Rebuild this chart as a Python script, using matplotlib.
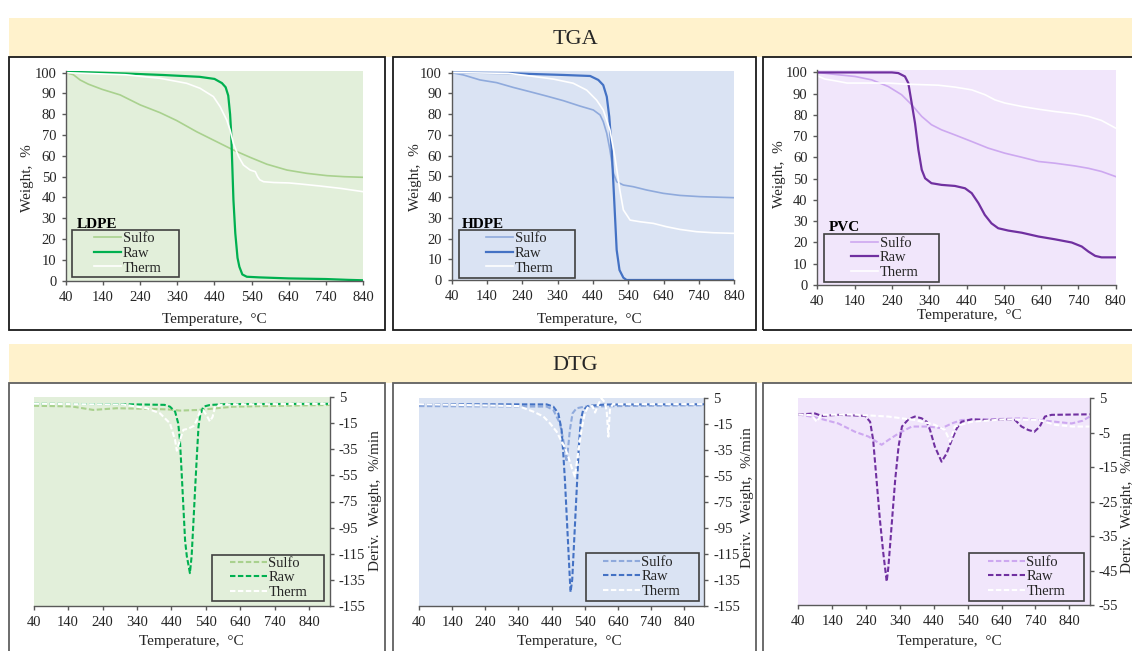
import matplotlib
matplotlib.use("Agg")
import matplotlib.pyplot as plt
from matplotlib.patches import Rectangle

plt.rcParams['font.family'] = ['Liberation Serif', 'DejaVu Serif']
plt.rcParams['axes.unicode_minus'] = False

# ---------------- DATA ----------------
series_names = ["Sulfo", "Raw", "Therm"]
materials = ["LDPE", "HDPE", "PVC"]
x_ticks = [40, 140, 240, 340, 440, 540, 640, 740, 840]
tga_y_ticks = [0, 10, 20, 30, 40, 50, 60, 70, 80, 90, 100]
dtg_y_ticks_pe = [5, -15, -35, -55, -75, -95, -115, -135, -155]
dtg_y_ticks_pvc = [5, -5, -15, -25, -35, -45, -55]

# TGA LDPE
ldpe_sulfo_T = [40, 60, 78, 100, 137, 186, 240, 293, 338, 392, 437, 491, 536, 581, 635, 689, 743, 790, 840]
ldpe_sulfo_W = [100, 99, 96.5, 94.5, 92, 89.3, 84.5, 80.8, 77, 71.6, 67.6, 62.8, 59.3, 56, 53.2, 51.6, 50.5, 50, 49.7]
ldpe_raw_T = [40, 200, 300, 400, 440, 460, 470, 477, 482, 485, 491, 496, 502, 507, 515, 527, 560, 640, 740, 800, 840]
ldpe_raw_W = [100.5, 99.6, 98.9, 98, 97, 95, 93, 89, 80, 70.8, 38.8, 22.8, 11, 6.7, 3, 1.9, 1.6, 1.1, 0.8, 0.4, 0.2]
ldpe_therm_T = [40, 200, 293, 365, 401, 437, 455, 473, 482, 491, 505, 518, 536, 550, 556, 562, 572, 600, 640, 671, 725, 779, 840]
ldpe_therm_W = [100, 99, 97.3, 94.9, 92.5, 88.5, 83.7, 77.2, 72.4, 66, 59.6, 55.6, 53.2, 52.4, 50, 48.5, 47.6, 47.2, 47, 46.5, 45.5, 44.4, 42.8]

# TGA HDPE
hdpe_sulfo_T = [40, 73, 120, 167, 214, 262, 309, 356, 403, 441, 460, 469, 479, 488, 498, 507, 526, 554, 592, 639, 686, 743, 840]
hdpe_sulfo_W = [100, 98.9, 96.5, 95.2, 92.9, 90.8, 88.7, 86.5, 83.9, 82, 79.6, 76.4, 70.7, 62.7, 51.4, 47.4, 45.8, 45, 43.4, 41.8, 40.8, 40.2, 39.7]
hdpe_raw_T = [40, 200, 262, 356, 432, 455, 469, 479, 486, 493, 500, 507, 515, 526, 535, 840]
hdpe_raw_W = [100, 99.8, 99.4, 98.9, 98.4, 96.5, 94, 88.4, 78.8, 62.7, 38.6, 14.5, 4.8, 1.1, 0, 0]
hdpe_therm_T = [40, 200, 262, 328, 384, 422, 450, 469, 488, 502, 516, 526, 545, 573, 611, 648, 686, 733, 780, 840]
hdpe_therm_W = [100, 99.7, 98.4, 96.9, 94.9, 91.6, 86.8, 82, 72.3, 59.5, 43.4, 33.8, 28.9, 28.1, 27.3, 25.7, 24.4, 23.3, 22.8, 22.5]

# TGA PVC
pvc_sulfo_T = [40, 96, 141, 186, 230, 266, 293, 320, 346, 373, 409, 454, 498, 543, 588, 633, 677, 731, 767, 802, 840]
pvc_sulfo_W = [100, 98.9, 98.1, 96.5, 93.4, 89.5, 84.8, 79.3, 75.4, 73, 70.6, 67.5, 64.4, 62, 60.1, 58.1, 57.3, 56, 54.9, 53.4, 51]
pvc_raw_T = [40, 240, 257, 275, 284, 293, 302, 311, 320, 329, 346, 373, 409, 436, 454, 472, 489, 507, 525, 552, 588, 633, 677, 722, 749, 767, 785, 802, 840]
pvc_raw_W = [100, 100, 99.7, 98.1, 95, 85.6, 76.1, 63.6, 54.2, 50.2, 47.9, 47.1, 46.6, 45.5, 43.2, 38.5, 33, 29, 26.7, 25.6, 24.6, 22.8, 21.5, 20, 18.1, 15.7, 13.7, 13, 13]
pvc_therm_T = [40, 60, 96, 120, 230, 275, 364, 409, 454, 490, 516, 543, 588, 633, 677, 731, 767, 802, 840]
pvc_therm_W = [98.4, 96.9, 95.8, 95, 95, 94.5, 94, 93.1, 91.8, 89.5, 87.1, 85.6, 84, 82.7, 81.6, 80.5, 79.3, 77.4, 73.8]

# DTG LDPE
dtg_ldpe_sulfo_T = [40, 150, 213, 281, 360, 430, 465, 520, 572, 620, 720, 900]
dtg_ldpe_sulfo_V = [-1.5, -2, -4.7, -3.4, -3.8, -4.3, -5.2, -4.7, -3.4, -2.2, -1.7, -0.9]
dtg_ldpe_raw_T = [40, 300, 420, 436, 451, 460, 465, 470, 475, 480, 485, 490, 494, 499, 504, 509, 514, 519, 524, 533, 552, 600, 900]
dtg_ldpe_raw_V = [0, -0.3, -0.8, -2.2, -6, -15, -28, -53, -79, -105, -117, -124, -130, -117, -92, -66, -41, -17.5, -8.6, -2.2, -0.9, -0.2, 0]
dtg_ldpe_therm_T = [40, 300, 368, 407, 436, 451, 456, 465, 475, 490, 505, 515, 523, 533, 543, 552, 560, 567, 590, 900]
dtg_ldpe_therm_V = [0, -0.5, -3.4, -7.3, -15, -28, -36, -28, -20, -19, -17, -12, -6, -5, -9, -13.5, -10, -2.2, -0.5, 0]

# DTG HDPE
dtg_hdpe_sulfo_T = [40, 200, 425, 445, 465, 475, 485, 490, 495, 503, 515, 540, 700, 900]
dtg_hdpe_sulfo_V = [-1, -1.2, -1.4, -4, -14.3, -27, -44, -32.3, -19.4, -6.6, -2.7, -1.4, -0.8, -0.4]
dtg_hdpe_raw_T = [40, 425, 445, 460, 470, 475, 480, 485, 490, 495, 497, 502, 507, 512, 517, 522, 528, 535, 550, 600, 900]
dtg_hdpe_raw_V = [0.4, 0.3, -1.4, -6.6, -19.4, -37.4, -58, -83.7, -109.5, -135, -144.5, -135, -109.5, -83.7, -58, -32, -11.7, -4, -0.9, 0.2, 0.4]
dtg_hdpe_therm_T = [40, 340, 385, 415, 435, 455, 470, 480, 490, 500, 510, 520, 530, 540, 550, 563, 571, 580, 590, 600, 606, 611, 616, 625, 900]
dtg_hdpe_therm_V = [0.5, -1, -5.3, -9, -14.3, -20.7, -28.4, -33, -40, -48, -55.4, -37, -19.4, -6.6, -1.4, -1, -6, 0, 5, 2, -5, -24.6, -3, 0.5, 0.5]

# DTG PVC
dtg_pvc_sulfo_T = [40, 89, 158, 207, 247, 286, 306, 336, 375, 424, 463, 493, 522, 600, 700, 750, 798, 847, 880, 900]
dtg_pvc_sulfo_V = [0.3, -0.5, -2.3, -4.7, -6.1, -8.5, -7.1, -5.2, -3.2, -3.2, -3.7, -2.3, -1.3, -1.1, -0.8, -1.3, -1.8, -2.3, -1.5, -0.3]
dtg_pvc_raw_T = [40, 89, 109, 158, 237, 252, 261, 271, 281, 291, 301, 306, 316, 326, 336, 346, 365, 384, 404, 419, 429, 443, 463, 478, 493, 508, 522, 552, 601, 660, 680, 699, 719, 737, 753, 768, 788, 900]
dtg_pvc_raw_V = [0.3, 0.6, -0.1, 0.2, -0.1, -1.8, -7.1, -18.7, -30.3, -40, -48.2, -43.9, -31.3, -18.7, -9, -3.2, -1.1, -0.3, -0.8, -1.8, -4.2, -9, -13.4, -11, -7.1, -3.7, -1.8, -1.1, -1.3, -1.1, -1.3, -3.2, -4.2, -4.7, -3.2, -0.3, 0.2, 0.35]
dtg_pvc_therm_T = [40, 80, 94, 108, 200, 306, 384, 443, 473, 488, 502, 552, 650, 750, 798, 850, 900]
dtg_pvc_therm_V = [0.3, 0.1, -1.8, 0.2, 0.3, -0.3, -1.3, -2.7, -4.2, -7.6, -3.2, -1.8, -1.1, -1.3, -2.7, -3.2, -3.2]

# ---------------- STYLE ----------------
W, H = 1132, 651
bg_colors = ['#E2EFDA', '#DAE3F3', '#F1E6FB']
sulfo_colors = ['#A9D18E', '#8FAADC', '#CDA8F0']
raw_colors = ['#00B050', '#4472C4', '#7030A0']
therm_color = '#FFFFFF'
spine_c = '#595959'
text_c = '#262626'

fig = plt.figure(figsize=(W / 100, H / 100), dpi=100)


def fx(px):
    return px / W


def fy(py):
    return 1 - py / H


def add_ax(l, t, r, b):
    return fig.add_axes([l / W, 1 - b / H, (r - l) / W, (b - t) / H])


def rect(l, t, r, b, **kw):
    fig.add_artist(Rectangle((fx(l), fy(b)), (r - l) / W, (b - t) / H,
                             transform=fig.transFigure, **kw))


# headers
for (t, b, label) in [(18, 57, 'TGA'), (344, 383, 'DTG')]:
    rect(9, t, 1140, b, facecolor='#FFF2CC', edgecolor='none', zorder=-2)
    fig.text(fx(575), fy((t + b) / 2 + 1.5), label, ha='center', va='center',
             fontsize=16, color=text_c)

# panel borders
panel_x = [(9, 385), (393, 756), (763, 1145)]
for (l, r) in panel_x:
    rect(l, 57, r, 330, facecolor='none', edgecolor='#1a1a1a', lw=1.3, zorder=-1)
    rect(l, 383, r, 670, facecolor='none', edgecolor='#606060', lw=1.3, zorder=-1)

tga_data = [
    [(ldpe_sulfo_T, ldpe_sulfo_W), (ldpe_raw_T, ldpe_raw_W), (ldpe_therm_T, ldpe_therm_W)],
    [(hdpe_sulfo_T, hdpe_sulfo_W), (hdpe_raw_T, hdpe_raw_W), (hdpe_therm_T, hdpe_therm_W)],
    [(pvc_sulfo_T, pvc_sulfo_W), (pvc_raw_T, pvc_raw_W), (pvc_therm_T, pvc_therm_W)],
]
dtg_data = [
    [(dtg_ldpe_sulfo_T, dtg_ldpe_sulfo_V), (dtg_ldpe_raw_T, dtg_ldpe_raw_V), (dtg_ldpe_therm_T, dtg_ldpe_therm_V)],
    [(dtg_hdpe_sulfo_T, dtg_hdpe_sulfo_V), (dtg_hdpe_raw_T, dtg_hdpe_raw_V), (dtg_hdpe_therm_T, dtg_hdpe_therm_V)],
    [(dtg_pvc_sulfo_T, dtg_pvc_sulfo_V), (dtg_pvc_raw_T, dtg_pvc_raw_V), (dtg_pvc_therm_T, dtg_pvc_therm_V)],
]

# pixel layouts
tga_axes_px = [(66, 70.6, 363, 280.7), (451.7, 70.6, 734.3, 280), (817.3, 70.3, 1115.7, 285)]
tga_ylabel_px = [(28, 178), (415, 177), (780, 174)]
tga_xlabel_px = [(214.5, 319), (589.5, 320), (969.5, 315)]
tga_leg_box = [(71.7, 230, 179, 277), (459, 230, 575, 278), (824, 234, 939, 282)]
tga_leg_anchor = [(94, 232), (486, 232), (851, 236.5)]
tga_title_px = [(76.7, 224), (461.7, 224), (829, 227.3)]

dtg_axes_px = [(33.7, 397.3, 329.6, 605.7), (419, 398.3, 704.2, 605.7), (798.3, 398.3, 1089.6, 605)]
dtg_ylabel_px = [(375, 501), (748, 498), (1127, 503)]
dtg_xlabel_px = [(191.7, 641.7), (569, 641.7), (949, 641.7)]
dtg_leg_box = [(212, 555, 324, 601), (585.7, 553, 699, 600.7), (969, 553, 1084, 600.7)]
dtg_leg_anchor = [(230, 556.5), (603, 555.5), (988, 555.5)]

FS_TICK = 10.5
FS_LAB = 11
FS_LEG = 10.5
fpx = FS_LEG * 100 / 72.0

for i in range(3):
    # ---------- TGA ----------
    ax = add_ax(*tga_axes_px[i])
    ax.set_facecolor(bg_colors[i])
    cols = [sulfo_colors[i], raw_colors[i], therm_color]
    lws = [1.2, 1.6, 1.2]
    for (T, Wt), c, lw, name in zip(tga_data[i], cols, lws, series_names):
        ax.plot(T, Wt, color=c, lw=lw, label=name, solid_joinstyle='round')
    ax.set_xlim(40, 840)
    ax.set_ylim(0, 101)
    ax.set_xticks(x_ticks)
    ax.set_yticks(tga_y_ticks)
    for s in ['top', 'right']:
        ax.spines[s].set_visible(False)
    for s in ['left', 'bottom']:
        ax.spines[s].set_color(spine_c)
        ax.spines[s].set_linewidth(1.0)
    ax.tick_params(axis='both', direction='out', length=3, width=1, color=spine_c,
                   labelsize=FS_TICK, labelcolor=text_c)
    ax.tick_params(axis='y', pad=4)
    ax.tick_params(axis='x', pad=4.5)
    fig.text(fx(tga_ylabel_px[i][0]), fy(tga_ylabel_px[i][1]), 'Weight,  %', rotation=90,
             ha='center', va='center', fontsize=FS_LAB, color=text_c)
    fig.text(fx(tga_xlabel_px[i][0]), fy(tga_xlabel_px[i][1]), 'Temperature,  °C',
             ha='center', va='center', fontsize=FS_LAB, color=text_c)
    # legend
    hl = 27 / fpx
    leg = ax.legend(loc='upper left', bbox_to_anchor=(fx(tga_leg_anchor[i][0]), fy(tga_leg_anchor[i][1])),
                    bbox_transform=fig.transFigure, frameon=False, borderpad=0, borderaxespad=0,
                    handlelength=hl, handletextpad=0.12, labelspacing=0.1, fontsize=FS_LEG)
    for t in leg.get_texts():
        t.set_color(text_c)
    l, t_, r, b = tga_leg_box[i]
    rect(l, t_, r, b, facecolor='none', edgecolor='#404040', lw=1.2, zorder=5)
    fig.text(fx(tga_title_px[i][0]), fy(tga_title_px[i][1]), materials[i], ha='left', va='center',
             fontsize=11, fontweight='bold', color='#000000')

    # ---------- DTG ----------
    ax2 = add_ax(*dtg_axes_px[i])
    ax2.set_facecolor(bg_colors[i])
    for (T, V), c, name in zip(dtg_data[i], cols, series_names):
        ax2.plot(T, V, color=c, lw=1.5, dashes=(2.6, 1.2), label=name)
    ax2.set_xlim(40, 900)
    if i < 2:
        ax2.set_ylim(-155, 5)
        ax2.set_yticks(dtg_y_ticks_pe)
    else:
        ax2.set_ylim(-55, 5)
        ax2.set_yticks(dtg_y_ticks_pvc)
    ax2.set_xticks(x_ticks)
    ax2.yaxis.tick_right()
    for s in ['top', 'left']:
        ax2.spines[s].set_visible(False)
    for s in ['right', 'bottom']:
        ax2.spines[s].set_color(spine_c)
        ax2.spines[s].set_linewidth(1.0)
    ax2.tick_params(axis='both', direction='out', length=3, width=1, color=spine_c,
                    labelsize=FS_TICK, labelcolor=text_c)
    ax2.tick_params(axis='y', pad=3.5)
    ax2.tick_params(axis='x', pad=4.5)
    fig.text(fx(dtg_ylabel_px[i][0]), fy(dtg_ylabel_px[i][1]), 'Deriv.  Weight,  %/min', rotation=90,
             ha='center', va='center', fontsize=FS_LAB, color=text_c)
    fig.text(fx(dtg_xlabel_px[i][0]), fy(dtg_xlabel_px[i][1]), 'Temperature,  °C',
             ha='center', va='center', fontsize=FS_LAB, color=text_c)
    hl2 = 37 / fpx
    leg2 = ax2.legend(loc='upper left', bbox_to_anchor=(fx(dtg_leg_anchor[i][0]), fy(dtg_leg_anchor[i][1])),
                      bbox_transform=fig.transFigure, frameon=False, borderpad=0, borderaxespad=0,
                      handlelength=hl2, handletextpad=0.1, labelspacing=0.1, fontsize=FS_LEG)
    for t in leg2.get_texts():
        t.set_color(text_c)
    l, t_, r, b = dtg_leg_box[i]
    rect(l, t_, r, b, facecolor='none', edgecolor='#404040', lw=1.2, zorder=5)

fig.savefig('out.png', dpi=100)
